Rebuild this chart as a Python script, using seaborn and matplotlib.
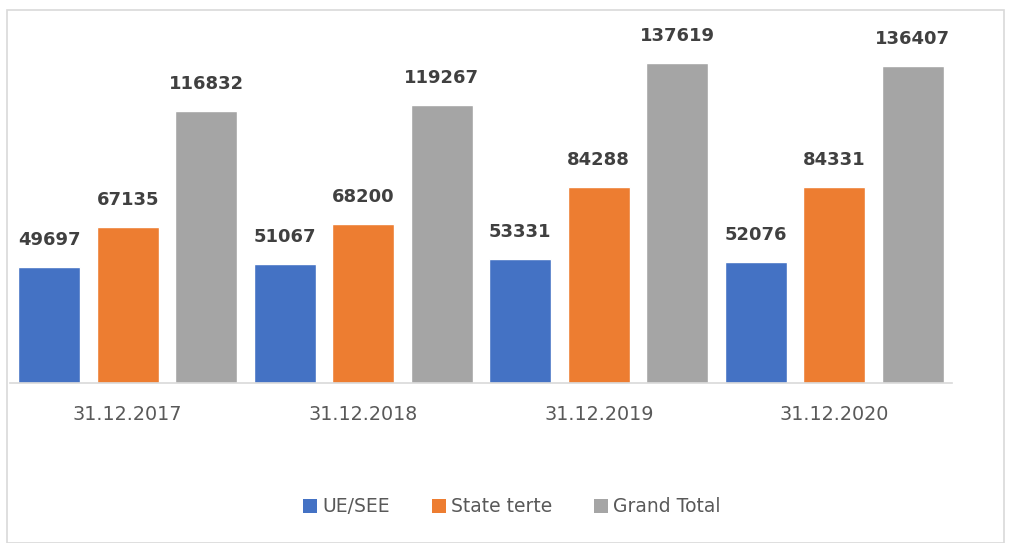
#!/usr/bin/env python3
# Grouped bar chart: UE/SEE vs State terte vs Grand Total

import pandas as pd
import matplotlib.pyplot as plt
import seaborn as sns
from matplotlib.patches import Patch, Rectangle

# ============================================================================
# DATA
# ============================================================================
dates = ["31.12.2017", "31.12.2018", "31.12.2019", "31.12.2020"]
series_names = ["UE/SEE", "State terte", "Grand Total"]
ue_see = [49697, 51067, 53331, 52076]
state_terte = [67135, 68200, 84288, 84331]
grand_total = [116832, 119267, 137619, 136407]

colors = ["#4472C4", "#ED7D31", "#A5A5A5"]

df = pd.DataFrame({
    "date": dates * 3,
    "series": [series_names[0]] * 4 + [series_names[1]] * 4 + [series_names[2]] * 4,
    "value": ue_see + state_terte + grand_total,
})

# ============================================================================
# THEME SETTINGS
# ============================================================================
sns.set_theme(style="white")
plt.rcParams['font.family'] = ['DejaVu Sans']

# ============================================================================
# CREATE PLOT
# ============================================================================
W, H = 1011, 543
fig = plt.figure(figsize=(W / 100, H / 100), dpi=100)
fig.patch.set_facecolor("white")

# chart border
fig.patches.append(Rectangle((7 / W, 0), (1004 - 7) / W, (H - 10) / H,
                             transform=fig.transFigure, fill=False,
                             edgecolor="#d9d9d9", linewidth=1.2))

ax = fig.add_axes([10 / W, (H - 383) / H, (952 - 10) / W, (383 - 20) / H])

sns.barplot(data=df, x="date", y="value", hue="series", order=dates,
            hue_order=series_names, palette=colors, width=1.0, gap=0.21,
            saturation=1, legend=False, ax=ax)

for cont in ax.containers:
    ax.bar_label(cont, fmt="%d", padding=13, fontsize=13,
                 fontweight="bold", color="#404040")

ax.set_xlim(-0.5, 3.5)
ax.set_ylim(0, 156000)
ax.set_xlabel("")
ax.set_ylabel("")
ax.set_yticks([])
ax.tick_params(axis="x", length=0, pad=16, labelsize=13.8, labelcolor="#595959")
for s in ["top", "right", "left"]:
    ax.spines[s].set_visible(False)
ax.spines["bottom"].set_color("#d9d9d9")
ax.spines["bottom"].set_linewidth(1.2)
ax.set_facecolor("white")

handles = [Patch(facecolor=c, edgecolor="none", label=n)
           for c, n in zip(colors, series_names)]
fig.legend(handles=handles, loc="center", bbox_to_anchor=(512 / W, (H - 507) / H),
           ncol=3, frameon=False, fontsize=13.5, labelcolor="#595959",
           handlelength=0.75, handleheight=0.75, handletextpad=0.3,
           columnspacing=2.2)

# ============================================================================
# SAVE OUTPUT
# ============================================================================
plt.savefig("out.png", dpi=100)
plt.close()
